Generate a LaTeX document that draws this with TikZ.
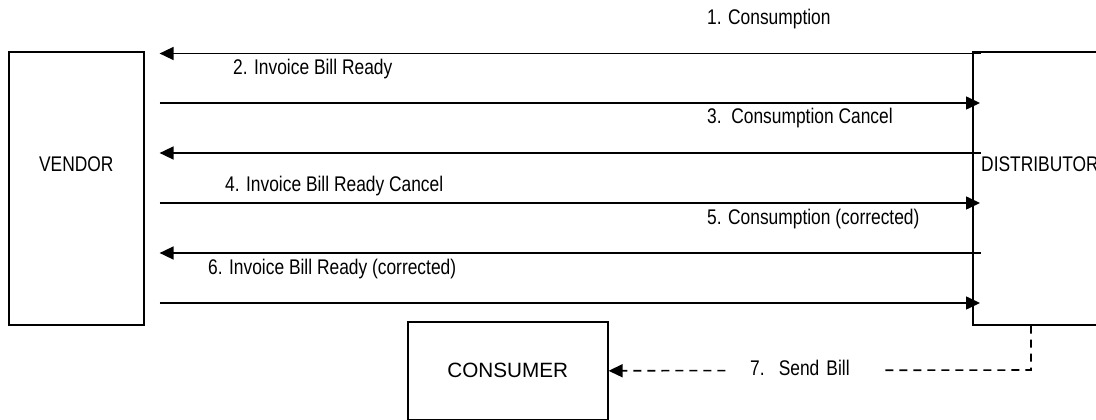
\documentclass[tikz,border=0pt]{standalone}
\usepackage{fontspec}
\setmainfont{Liberation Sans}
\newfontfamily\narrowfont[FakeStretch=0.82]{Liberation Sans}
\usetikzlibrary{arrows.meta}

\tikzset{
    box/.style={draw, line width=1.6pt, inner sep=0pt},
    msg/.style={line width=1.6pt, -{Triangle[length=14pt, width=13pt]}},
    bill/.style={line width=1.6pt, dash pattern=on 8pt off 6pt, -{Triangle[length=14pt, width=13pt]}},
    lbl/.style={anchor=base west, inner sep=0pt, font=\narrowfont\fontsize{21.2}{24}\selectfont}
}

\begin{document}
\begin{tikzpicture}[x=1pt, y=-1pt]
        \useasboundingbox (0,0) rectangle (1096,420);
        \clip (0,0) rectangle (1096,420);

        % bloky
        \node[box, anchor=north west, minimum width=135, minimum height=273] (vendor) at (8,51) {};
        \node[box, anchor=north west, minimum width=140, minimum height=273] (dist) at (972,51) {};
        \node[box, anchor=north west, minimum width=200, minimum height=98,
              font=\fontsize{20.7}{24}\selectfont] (consumer) at (407,321) {CONSUMER};

        \node[lbl, anchor=base] (vendortext) at (vendor.center |- 0,171) {VENDOR};
        \node[lbl] (disttext) at (981,171) {DISTRIBUTOR};

        % zprávy
        \draw[msg] ([xshift=9]dist.west |- 0,53.5) -- ([xshift=15]vendor.east |- 0,53.5);
        \draw[msg] ([xshift=15]vendor.east |- 0,103) -- ([xshift=8]dist.west |- 0,103);
        \draw[msg] ([xshift=9]dist.west |- 0,153) -- ([xshift=15]vendor.east |- 0,153);
        \draw[msg] ([xshift=15]vendor.east |- 0,203) -- ([xshift=8]dist.west |- 0,203);
        \draw[msg] ([xshift=9]dist.west |- 0,253) -- ([xshift=15]vendor.east |- 0,253);
        \draw[msg] ([xshift=15]vendor.east |- 0,303) -- ([xshift=8]dist.west |- 0,303);

        % popisky
        \node[lbl] (m1) at (707,25) {1. Consumption};
        \node[lbl] (m2) at (233,75) {2. Invoice Bill Ready};
        \node[lbl] (m3) at (707,123) {3.\ \ Consumption Cancel};
        \node[lbl] (m4) at (225,191) {4. Invoice Bill Ready Cancel};
        \node[lbl] (m5) at (707,224) {5. Consumption (corrected)};
        \node[lbl] (m6) at (208,274) {6. Invoice Bill Ready (corrected)};

        % faktura
        \coordinate (turn) at (1031,370);
        \draw[bill] (turn |- dist.south) -- (turn) -- (consumer.east);
        \node[lbl, fill=white, text width=115, inner xsep=20, inner ysep=3] (m7) at (730,375) {7.\ \ Send Bill};
    \end{tikzpicture}
\end{document}
